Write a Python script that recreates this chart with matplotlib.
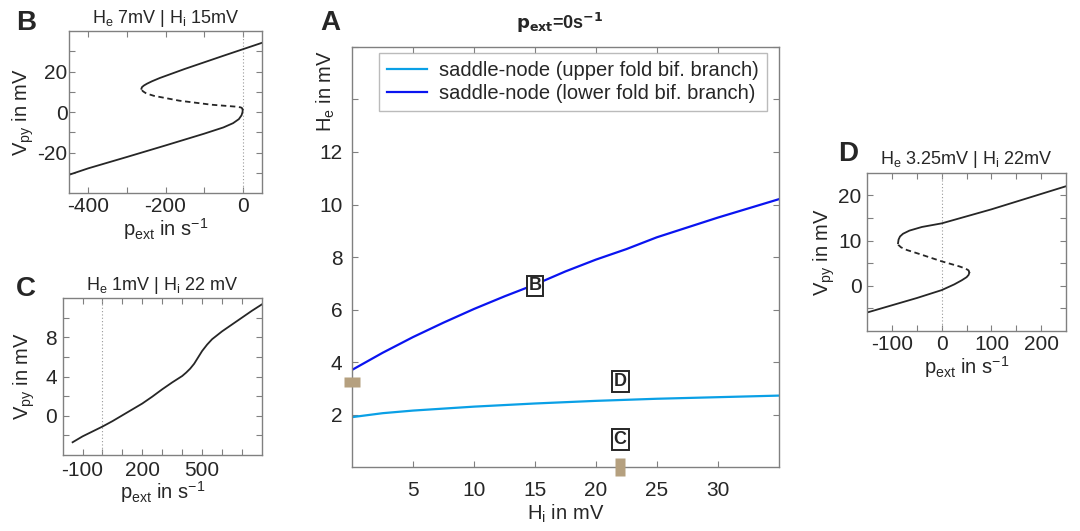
import matplotlib
matplotlib.use("Agg")
import matplotlib.pyplot as plt

plt.rcParams['font.family'] = ['Liberation Sans', 'DejaVu Sans']
plt.rcParams['mathtext.default'] = 'regular'

# ---- panel A: fold curves (Hi vs He) ----
hi_vals = [0, 2.5, 5, 7.5, 10, 12.5, 15, 17.5, 20, 22.5, 25, 30, 35]
he_lower = [3.7, 4.35, 4.95, 5.5, 6.02, 6.5, 6.95, 7.45, 7.9, 8.3, 8.75, 9.5, 10.2]
hi_up = [0, 2.5, 5, 10, 15, 20, 25, 30, 35]
he_upper = [1.9, 2.05, 2.15, 2.3, 2.42, 2.52, 2.6, 2.66, 2.72]

# ---- panel B: He 7mV, Hi 15mV ----
b_low_p = [-450, -400, -300, -200, -100, -50, -25, -10, -3, -0.5, 0]
b_low_v = [-31.0, -27.8, -22.2, -16.5, -10.7, -7.6, -5.5, -3.5, -1.6, 0.0, 1.0]
b_mid_p = [0, -1, -5, -20, -80, -164, -230, -250, -258, -262, -262.5]
b_mid_v = [1.0, 1.8, 2.3, 2.7, 3.6, 5.6, 8.0, 9.2, 10.2, 11.0, 11.5]
b_up_p = [-262.5, -261, -256, -248, -235, -215, -150, -50, 0, 50]
b_up_v = [11.5, 12.3, 13.1, 14.0, 15.2, 16.8, 21.3, 27.8, 31.0, 34.2]

# ---- panel C: He 1mV, Hi 22mV ----
c_p = [-150, -100, -50, 0, 50, 100, 150, 200, 250, 300, 350, 400, 420,
       440, 460, 480, 500, 525, 550, 600, 650, 700, 750, 800]
c_v = [-2.7, -2.1, -1.6, -1.1, -0.55, 0.05, 0.65, 1.25, 1.95, 2.7, 3.4, 4.05,
       4.4, 4.8, 5.3, 5.95, 6.6, 7.25, 7.8, 8.6, 9.3, 10.0, 10.7, 11.35]

# ---- panel D: He 3.25mV, Hi 22mV ----
d_low_p = [-150, -100, -50, 0, 25, 40, 50, 54, 55.5]
d_low_v = [-5.9, -4.3, -2.7, -0.95, 0.3, 1.2, 1.9, 2.4, 2.9]
d_mid_p = [55.5, 54, 48, 35, 0, -47, -70, -82, -87, -88]
d_mid_v = [2.9, 3.4, 3.8, 4.3, 5.4, 7.1, 7.9, 8.5, 9.0, 9.4]
d_up_p = [-88, -87, -84, -78, -65, -40, 0, 100, 250]
d_up_v = [9.4, 10.2, 10.9, 11.5, 12.2, 13.0, 13.8, 16.9, 22.0]

txt = '#262626'
spine = '#808080'
line_c = '#262626'


def style_ax(ax, xpad=4, ypad=3):
    for s in ax.spines.values():
        s.set_color(spine)
        s.set_linewidth(1.0)
    ax.tick_params(direction='in', top=True, right=True, length=4,
                   color=spine, labelcolor=txt, labelsize=15, width=0.8)
    ax.tick_params(axis='x', pad=xpad)
    ax.tick_params(axis='y', pad=ypad)


def sparse_labels(ticks, shown):
    return [('%g' % t) if t in shown else '' for t in ticks]


fig = plt.figure(figsize=(10.8, 5.31), dpi=100)

# ---------------- A ----------------
axA = fig.add_axes([0.326, 0.1205, 0.395, 0.791])
style_ax(axA, xpad=10, ypad=7)
axA.plot(hi_up, he_upper, color='#0aa0e6', lw=1.6,
         label='saddle-node (upper fold bif. branch)')
axA.plot(hi_vals, he_lower, color='#0a14f0', lw=1.6,
         label='saddle-node (lower fold bif. branch)')
axA.set_xlim(0, 35)
axA.set_ylim(0, 16)
xt = [5, 10, 15, 20, 25, 30]
axA.set_xticks(xt)
yt = [2, 4, 6, 8, 10, 12, 14, 16]
axA.set_yticks(yt)
axA.set_yticklabels(sparse_labels(yt, [2, 4, 6, 8, 10, 12]))
axA.set_xlabel('$H_i$ in mV', fontsize=14.5, color=txt, labelpad=2)
axA.set_ylabel('$H_e$ in mV', fontsize=14.5, color=txt)
axA.yaxis.set_label_coords(-0.035, 0.895)
leg = axA.legend(loc='upper left', bbox_to_anchor=(0.063, 0.985), fontsize=14.5,
                 frameon=True, fancybox=False, borderpad=0.4, handlelength=2.0,
                 handletextpad=0.6, labelspacing=0.2, borderaxespad=0.0)
leg.get_frame().set_edgecolor('#aaaaaa')
leg.get_frame().set_linewidth(1.0)
for t in leg.get_texts():
    t.set_color(txt)

# tan parameter markers
rect_h = [(-1, -0.55), (1, -0.55), (1, 0.55), (-1, 0.55), (-1, -0.55)]
rect_v = [(-0.55, -1), (0.55, -1), (0.55, 1), (-0.55, 1), (-0.55, -1)]
axA.plot([0], [3.25], marker=rect_h, ms=12, color='#b5a07f', mec='none',
         ls='none', clip_on=False, zorder=5)
axA.plot([22], [0], marker=rect_v, ms=13, color='#b5a07f', mec='none',
         ls='none', clip_on=False, zorder=5)
box = dict(boxstyle='square,pad=0.1', fc='white', ec='#262626', lw=1.4)
for lab, x, y in [('B', 15, 6.9), ('D', 22, 3.25), ('C', 22, 1.05)]:
    axA.text(x, y, lab, ha='center', va='center', fontsize=13,
             fontweight='bold', color=txt, bbox=box, zorder=6)
fig.text(0.518, 0.957, '$\\mathbf{p_{ext}}$=0s$^{\\mathbf{-1}}$', fontsize=13,
         fontweight='bold', ha='center', va='center', color=txt)
fig.text(0.306, 0.957, 'A', fontsize=20, fontweight='bold', color=txt,
         ha='center', va='center')

# ---------------- B ----------------
axB = fig.add_axes([0.0639, 0.6365, 0.1787, 0.305])
style_ax(axB, xpad=3, ypad=1)
axB.axvline(0, color='#999999', lw=0.8, ls=(0, (1, 2)))
axB.plot(b_low_p, b_low_v, color=line_c, lw=1.3)
axB.plot(b_mid_p, b_mid_v, color=line_c, lw=1.3, ls=(0, (3, 2)))
axB.plot(b_up_p, b_up_v, color=line_c, lw=1.3)
axB.set_xlim(-450, 50)
axB.set_ylim(-40, 40)
bxt = [-400, -300, -200, -100, 0]
axB.set_xticks(bxt)
axB.set_xticklabels(sparse_labels(bxt, [-400, -200, 0]))
byt = [-30, -20, -10, 0, 10, 20, 30]
axB.set_yticks(byt)
axB.set_yticklabels(sparse_labels(byt, [-20, 0, 20]))
axB.set_xlabel('$p_{ext}$ in s$^{-1}$', fontsize=14.5, color=txt, labelpad=0)
axB.set_ylabel('$V_{py}$ in mV', fontsize=14.5, color=txt, labelpad=1)
axB.set_title('$H_e$ 7mV | $H_i$ 15mV', fontsize=13, color=txt, pad=6)
fig.text(0.024, 0.957, 'B', fontsize=20, fontweight='bold', color=txt,
         ha='center', va='center')

# ---------------- C ----------------
axC = fig.add_axes([0.058, 0.1431, 0.1845, 0.2957])
style_ax(axC, xpad=4, ypad=4)
axC.axvline(0, color='#999999', lw=0.8, ls=(0, (1, 2)))
axC.plot(c_p, c_v, color=line_c, lw=1.3)
axC.set_xlim(-200, 800)
axC.set_ylim(-4, 12)
cxt = [-100, 0, 100, 200, 300, 400, 500, 600, 700]
axC.set_xticks(cxt)
axC.set_xticklabels(sparse_labels(cxt, [-100, 200, 500]))
cyt = [-2, 0, 2, 4, 6, 8, 10]
axC.set_yticks(cyt)
axC.set_yticklabels(sparse_labels(cyt, [0, 4, 8]))
axC.set_xlabel('$p_{ext}$ in s$^{-1}$', fontsize=14.5, color=txt, labelpad=0)
axC.set_ylabel('$V_{py}$ in mV', fontsize=14.5, color=txt, labelpad=6)
axC.set_title('$H_e$ 1mV | $H_i$ 22 mV', fontsize=13, color=txt, pad=6)
fig.text(0.024, 0.455, 'C', fontsize=20, fontweight='bold', color=txt,
         ha='center', va='center')

# ---------------- D ----------------
axD = fig.add_axes([0.803, 0.3766, 0.184, 0.2982])
style_ax(axD, xpad=3, ypad=4)
axD.axvline(0, color='#999999', lw=0.8, ls=(0, (1, 2)))
axD.plot(d_low_p, d_low_v, color=line_c, lw=1.3)
axD.plot(d_mid_p, d_mid_v, color=line_c, lw=1.3, ls=(0, (3, 2)))
axD.plot(d_up_p, d_up_v, color=line_c, lw=1.3)
axD.set_xlim(-150, 250)
axD.set_ylim(-10, 25)
dxt = [-100, -50, 0, 50, 100, 150, 200]
axD.set_xticks(dxt)
axD.set_xticklabels(sparse_labels(dxt, [-100, 0, 100, 200]))
dyt = [-5, 0, 5, 10, 15, 20]
axD.set_yticks(dyt)
axD.set_yticklabels(sparse_labels(dyt, [0, 10, 20]))
axD.set_xlabel('$p_{ext}$ in s$^{-1}$', fontsize=14.5, color=txt, labelpad=0)
axD.set_ylabel('$V_{py}$ in mV', fontsize=14.5, color=txt, labelpad=1)
axD.set_title('$H_e$ 3.25mV | $H_i$ 22mV', fontsize=13, color=txt, pad=6)
fig.text(0.785, 0.71, 'D', fontsize=20, fontweight='bold', color=txt,
         ha='center', va='center')

fig.savefig('out.png', dpi=100, facecolor='white')
